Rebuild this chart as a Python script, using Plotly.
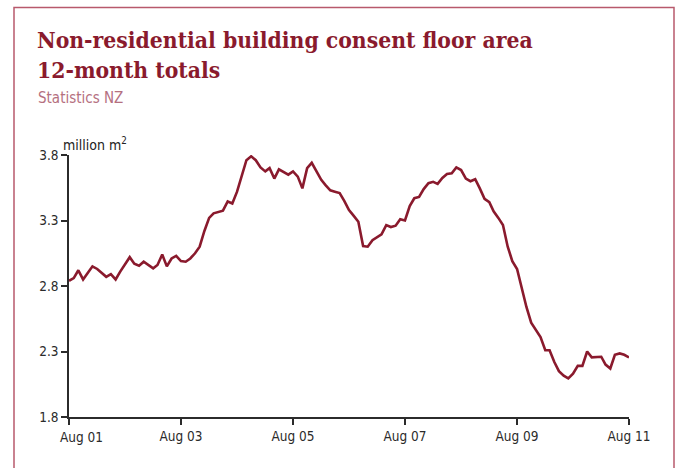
import pandas as pd
import plotly.graph_objects as go

values = [
    2.84, 2.86, 2.92, 2.85, 2.90, 2.95, 2.93, 2.90, 2.87, 2.89,
    2.85, 2.91, 2.97, 3.02, 2.97, 2.955, 2.985, 2.96, 2.935, 2.96,
    3.04, 2.95, 3.01, 3.03, 2.99, 2.985, 3.01, 3.05, 3.10, 3.22,
    3.32, 3.355, 3.365, 3.375, 3.445, 3.43, 3.52, 3.64, 3.76, 3.79,
    3.76, 3.705, 3.675, 3.70, 3.62, 3.69, 3.67, 3.65, 3.675, 3.635,
    3.545, 3.70, 3.74, 3.68, 3.61, 3.57, 3.53, 3.52, 3.51, 3.45,
    3.38, 3.335, 3.29, 3.105, 3.10, 3.15, 3.175, 3.195, 3.265, 3.25,
    3.26, 3.31, 3.30, 3.41, 3.47, 3.48, 3.54, 3.585, 3.595, 3.58,
    3.625, 3.655, 3.66, 3.705, 3.685, 3.62, 3.60, 3.615, 3.545, 3.465,
    3.44, 3.37, 3.32, 3.265, 3.10, 2.99, 2.93, 2.77, 2.64, 2.52,
    2.465, 2.41, 2.31, 2.31, 2.22, 2.15, 2.115, 2.095, 2.13, 2.19,
    2.19, 2.30, 2.255, 2.255, 2.26, 2.20, 2.17, 2.275, 2.285, 2.275,
    2.255,
]
dates = pd.date_range("2001-08-01", periods=len(values), freq="MS")
tick_dates = ["2001-08-01", "2003-08-01", "2005-08-01", "2007-08-01", "2009-08-01", "2011-08-01"]
tick_labels = ["Aug 01", "Aug 03", "Aug 05", "Aug 07", "Aug 09", "Aug 11"]
y_ticks = [1.8, 2.3, 2.8, 3.3, 3.8]

LINE = "#8a1a2d"
AXIS = "#2b2b2b"
TICKFONT = dict(family="Liberation Sans Narrow, DejaVu Sans Condensed, Roboto", size=13.5, color="#2b2b2b")

fig = go.Figure()
fig.add_trace(go.Scatter(x=dates, y=values, mode="lines",
                         line=dict(color=LINE, width=2.6), hoverinfo="skip"))

L, R, T, B = 69, 49, 155, 51
W, H = 678, 468
pw, ph = W - L - R, H - T - B

def px(x):
    return (x - L) / pw

def py(y):
    return (H - B - y) / ph

fig.update_layout(
    width=W, height=H,
    margin=dict(l=L, r=R, t=T, b=B),
    paper_bgcolor="white", plot_bgcolor="white",
    showlegend=False,
    xaxis=dict(range=["2001-08-01", "2011-08-01"], tickvals=tick_dates[1:], ticktext=tick_labels[1:],
               showgrid=False, zeroline=False, showline=True, linecolor=AXIS, linewidth=1.5,
               ticks="outside", ticklen=6, tickwidth=1.5, tickcolor=AXIS, tickfont=TICKFONT,
               minor=dict(tickvals=[tick_dates[0]], ticks="outside", ticklen=6, tickwidth=1.5,
                          tickcolor=AXIS, showgrid=False)),
    yaxis=dict(range=[1.8, 3.8], tickvals=y_ticks, ticktext=[f"{v:.1f}" for v in y_ticks],
               showgrid=False, zeroline=False, showline=True, linecolor=AXIS, linewidth=1.5,
               ticks="outside", ticklen=6, tickwidth=1.5, tickcolor=AXIS, tickfont=TICKFONT),
)

# first x label sits shifted right of its tick, as in the reference
fig.add_annotation(xref="x", yref="paper", x=tick_dates[0], y=py(427), xanchor="left", yanchor="top",
                   xshift=-11, text=tick_labels[0], showarrow=False, font=TICKFONT)

fig.add_shape(type="rect", xref="paper", yref="paper",
              x0=px(14), x1=px(674), y0=py(475), y1=py(7.5),
              line=dict(color="#b8596c", width=1.5), fillcolor="rgba(0,0,0,0)", layer="below")

TITLE_FONT = dict(family="DejaVu Serif Condensed, DejaVu Serif", size=22.7, color="#8a1a2d", weight="bold")
fig.add_annotation(xref="paper", yref="paper", x=px(35), y=py(25), xanchor="left", yanchor="top",
                   text="<b>Non-residential building consent floor area</b>", showarrow=False,
                   font=TITLE_FONT)
fig.add_annotation(xref="paper", yref="paper", x=px(35), y=py(55), xanchor="left", yanchor="top",
                   text="<b>12-month totals</b>", showarrow=False, font=TITLE_FONT)
fig.add_annotation(xref="paper", yref="paper", x=px(36), y=py(87), xanchor="left", yanchor="top",
                   text="Statistics NZ", showarrow=False,
                   font=dict(family="Liberation Sans Narrow, DejaVu Sans Condensed", size=15, color="#b5707f"))
fig.add_annotation(xref="paper", yref="paper", x=px(61), y=py(133), xanchor="left", yanchor="top",
                   text="million m<sup>2</sup>", showarrow=False,
                   font=dict(family="Liberation Sans Narrow, DejaVu Sans Condensed", size=14, color="#222"))

fig.write_html("out.html")
